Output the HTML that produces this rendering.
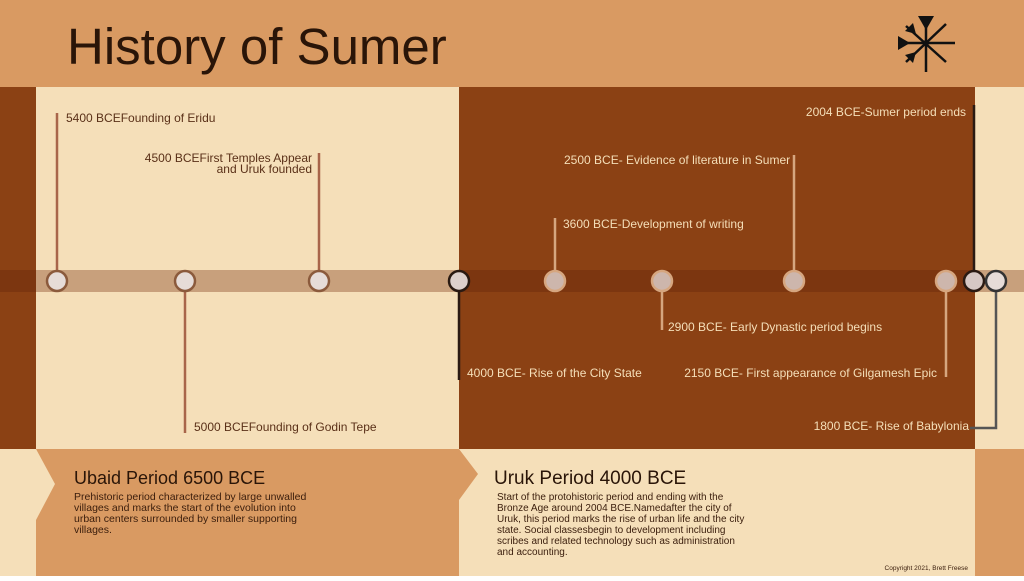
<!DOCTYPE html>
<html><head><meta charset="utf-8"><style>
html,body{margin:0;padding:0}
body{width:1024px;height:576px;overflow:hidden;font-family:"Liberation Sans",sans-serif}
</style></head><body>
<svg width="1024" height="576" viewBox="0 0 1024 576" xmlns="http://www.w3.org/2000/svg" font-family="Liberation Sans, sans-serif">
<rect x="0" y="0" width="1024" height="576" fill="#f5dfb9"/>
<rect x="0" y="0" width="1024" height="87" fill="#d99a62"/>
<text x="67" y="64" font-size="51" fill="#2a1508">History of Sumer</text>
<g stroke="#111" stroke-width="2.5" fill="none">
<line x1="926" y1="20" x2="926" y2="72"/>
<line x1="902" y1="43" x2="955" y2="43"/>
<line x1="906" y1="62" x2="946" y2="24"/>
<line x1="906" y1="26" x2="946" y2="62"/>
</g>
<g fill="#111">
<polygon points="918,16 934,16 926,30"/>
<polygon points="898,36 898,50 910,43"/>
<polygon points="905,31 913,23 916,34"/>
<polygon points="905,55 913,63 916,52"/>
<circle cx="926" cy="43" r="3"/>
</g>
<rect x="0" y="87" width="36" height="362" fill="#8b4114"/>
<rect x="459" y="87" width="516" height="362" fill="#8b4114"/>
<rect x="36" y="270" width="423" height="22" fill="#c8a07c"/>
<rect x="0" y="270" width="36" height="22" fill="#7c3610"/>
<rect x="459" y="270" width="516" height="22" fill="#7c3610"/>
<rect x="975" y="270" width="49" height="22" fill="#c8a07c"/>
<polygon points="36,449 459,449 478,474 459,500 459,576 36,576 36,520 55,484 36,449" fill="#d99a62"/>
<rect x="975" y="449" width="49" height="127" fill="#d99a62"/>
<g stroke-width="2.5">
<line x1="57" y1="113" x2="57" y2="281" stroke="#a8654a"/>
<line x1="185" y1="281" x2="185" y2="433" stroke="#a8654a"/>
<line x1="319" y1="153" x2="319" y2="281" stroke="#a8654a"/>
<line x1="459" y1="281" x2="459" y2="380" stroke="#2a1a12"/>
<line x1="555" y1="218" x2="555" y2="281" stroke="#d6a67f"/>
<line x1="662" y1="281" x2="662" y2="330" stroke="#d6a67f"/>
<line x1="794" y1="155" x2="794" y2="281" stroke="#d6a67f"/>
<line x1="946" y1="281" x2="946" y2="377" stroke="#d6a67f"/>
<line x1="974" y1="105" x2="974" y2="281" stroke="#2a1a12"/>
<polyline points="996,281 996,428 970,428" fill="none" stroke="#555"/>
</g>
<g stroke-width="2.5">
<circle cx="57" cy="281" r="10" fill="#e6dcd8" stroke="#8b5a3c"/>
<circle cx="185" cy="281" r="10" fill="#e6dcd8" stroke="#8b5a3c"/>
<circle cx="319" cy="281" r="10" fill="#e6dcd8" stroke="#8b5a3c"/>
<circle cx="459" cy="281" r="10" fill="#ddd0cc" stroke="#2a1a12"/>
<circle cx="555" cy="281" r="10" fill="#cdb6ac" stroke="#d6a67f"/>
<circle cx="662" cy="281" r="10" fill="#cdb6ac" stroke="#d6a67f"/>
<circle cx="794" cy="281" r="10" fill="#cdb6ac" stroke="#d6a67f"/>
<circle cx="946" cy="281" r="10" fill="#cdb6ac" stroke="#d6a67f"/>
<circle cx="974" cy="281" r="10" fill="#d6c8c4" stroke="#2a1a12"/>
<circle cx="996" cy="281" r="10" fill="#e6dcd8" stroke="#333"/>
</g>
<g font-size="12">
<text x="66" y="122" fill="#5a3018">5400 BCEFounding of Eridu</text>
<text x="312" y="162" fill="#5a3018" text-anchor="end">4500 BCEFirst Temples Appear</text>
<text x="312" y="173" fill="#5a3018" text-anchor="end">and Uruk founded</text>
<text x="194" y="431" fill="#5a3018">5000 BCEFounding of Godin Tepe</text>
<text x="467" y="377" fill="#f5dfb9">4000 BCE- Rise of the City State</text>
<text x="563" y="228" fill="#f5dfb9">3600 BCE-Development of writing</text>
<text x="564" y="164" fill="#f5dfb9">2500 BCE- Evidence of literature  in Sumer</text>
<text x="668" y="331" fill="#f5dfb9">2900 BCE- Early Dynastic period  begins</text>
<text x="937" y="377" fill="#f5dfb9" text-anchor="end">2150 BCE- First appearance of Gilgamesh Epic</text>
<text x="966" y="116" fill="#f5dfb9" text-anchor="end">2004 BCE-Sumer period  ends</text>
<text x="969" y="430" fill="#f5dfb9" text-anchor="end">1800 BCE- Rise of Babylonia</text>
</g>
<text x="74" y="484" font-size="18" fill="#2a1508">Ubaid Period 6500 BCE</text>
<g font-size="10.5" fill="#3a1d0c">
<text x="74" y="500">Prehistoric period  characterized by large unwalled</text>
<text x="74" y="511">villages and marks the start of the evolution into</text>
<text x="74" y="522">urban centers surrounded by smaller supporting</text>
<text x="74" y="533">villages.</text>
</g>
<text x="494" y="484" font-size="19" fill="#2a1508">Uruk Period 4000 BCE</text>
<g font-size="10" fill="#3a1d0c">
<text x="497" y="500">Start of the protohistoric period and ending with  the</text>
<text x="497" y="511">Bronze Age around  2004 BCE.Namedafter the city  of</text>
<text x="497" y="522">Uruk, this period marks the rise of urban life and the city</text>
<text x="497" y="533">state. Social classesbegin to development  including</text>
<text x="497" y="544">scribes and related technology  such as administration</text>
<text x="497" y="555">and accounting.</text>
</g>
<text x="968" y="570" font-size="6.5" fill="#3a1d0c" text-anchor="end">Copyright  2021, Brett Freese</text>
</svg>
</body></html>
